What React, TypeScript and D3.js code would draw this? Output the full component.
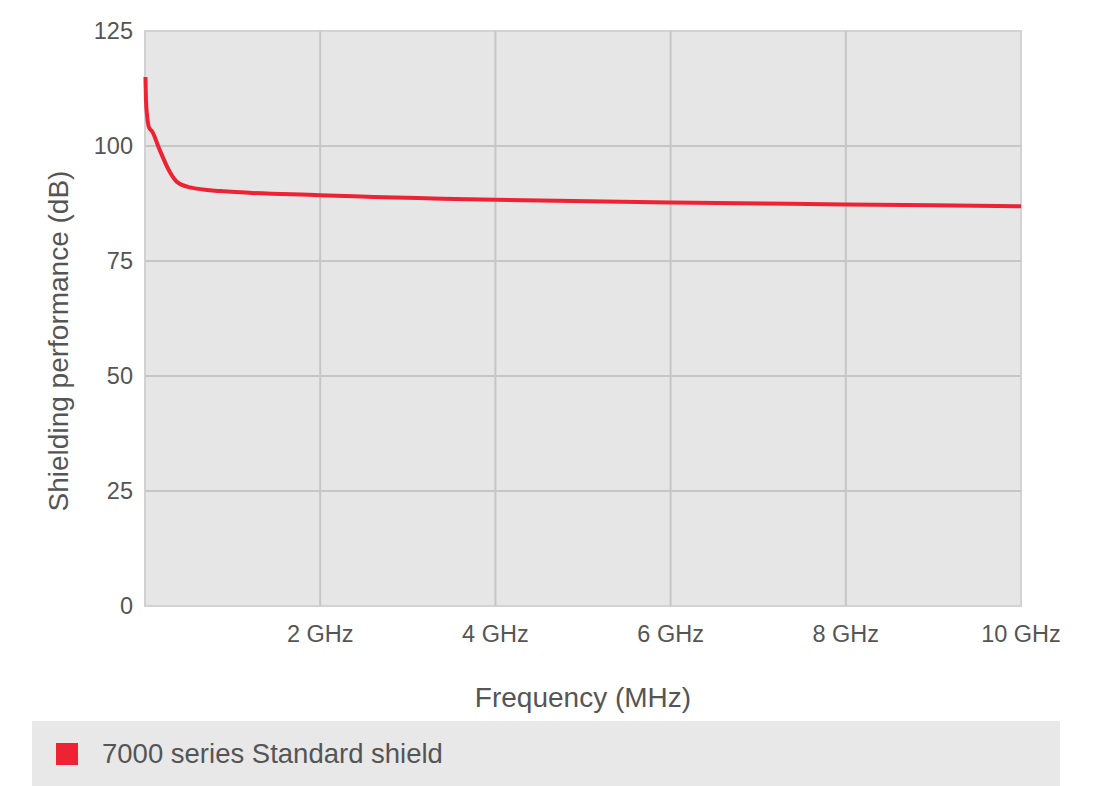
import React from "react";
import * as d3 from "d3";

const freqMHz = [5, 11, 23, 46, 80, 171, 285, 365, 514, 856, 2000, 4000, 6000, 8000, 10000];
const shielding = [115, 110, 106.7, 104, 103.2, 99, 94.3, 92.2, 91, 90.2, 89.3, 88.3, 87.7, 87.3, 86.9];
const yTicks = [0, 25, 50, 75, 100, 125];
const xTicks = [2000, 4000, 6000, 8000, 10000];
const xTickLabels = ["2 GHz", "4 GHz", "6 GHz", "8 GHz", "10 GHz"];
const seriesName = "7000 series Standard shield";

export default function App() {
  const W = 1113, H = 786;
  const left = 145, right = 1021, top = 31, bottom = 606;
  const x = d3.scaleLinear().domain([0, 10000]).range([left, right]);
  const y = d3.scaleLinear().domain([0, 125]).range([bottom, top]);
  const line = d3
    .line<number>()
    .x((_, i) => x(freqMHz[i]))
    .y((d) => y(d))
    .curve(d3.curveMonotoneX);
  const font = "'Liberation Sans', Arial, sans-serif";
  return (
    <svg width={W} height={H} style={{ position: "absolute", left: 0, top: 0 }} fontFamily={font}>
      <rect x={left} y={top} width={right - left} height={bottom - top} fill="#e6e6e6" stroke="#d2d2d2" strokeWidth={2} />
      {yTicks.filter((t) => t > 0 && t < 125).map((t) => (
        <line key={"gy" + t} x1={left} x2={right} y1={y(t)} y2={y(t)} stroke="#c6c6c6" strokeWidth={2} />
      ))}
      {xTicks.filter((t) => t < 10000).map((t) => (
        <line key={"gx" + t} x1={x(t)} x2={x(t)} y1={top} y2={bottom} stroke="#c6c6c6" strokeWidth={2} />
      ))}
      {yTicks.map((t) => (
        <text key={"ty" + t} x={133} y={y(t)} dy="0.35em" textAnchor="end" fontSize={23.5} fill="#555">
          {t}
        </text>
      ))}
      {xTicks.map((t, i) => (
        <text key={"tx" + t} x={x(t)} y={642} textAnchor="middle" fontSize={23.5} fill="#555">
          {xTickLabels[i]}
        </text>
      ))}
      <path d={line(shielding) || ""} fill="none" stroke="#ee2233" strokeWidth={4} strokeLinejoin="round" strokeLinecap="butt" />
      <text transform="translate(68,341) rotate(-90)" textAnchor="middle" fontSize={28} fill="#555">
        Shielding performance (dB)
      </text>
      <text x={583} y={707} textAnchor="middle" fontSize={28} fill="#555">
        Frequency (MHz)
      </text>
      <rect x={32} y={721} width={1028} height={65} fill="#e8e8e8" />
      <rect x={56} y={743} width={22} height={22} fill="#ee2233" />
      <text x={102} y={763} fontSize={27.5} fill="#555">
        {seriesName}
      </text>
    </svg>
  );
}
